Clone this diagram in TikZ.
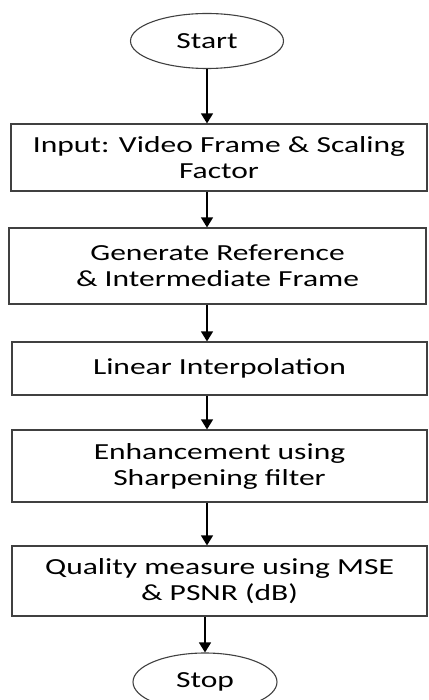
\documentclass[tikz,border=0pt]{standalone}
\usepackage{fontspec}
\setmainfont[FakeStretch=1.37]{Carlito}
\usetikzlibrary{arrows.meta,shapes.geometric}
\tikzset{
  box/.style={draw=black!75, line width=1.2pt, rectangle, minimum width=416pt, inner sep=0pt, align=center, font=\fontsize{23}{26}\selectfont},
  term/.style={draw=black!75, line width=1.1pt, ellipse, inner sep=0pt, font=\fontsize{23}{26}\selectfont},
  arr/.style={draw=black, line width=1.3pt, -{Triangle[width=12pt,length=10pt]}}
}
\begin{document}
\begin{tikzpicture}[x=1pt,y=1pt]
\useasboundingbox (0,0) rectangle (428,-700);
\node[term, minimum width=153pt, minimum height=55pt] (start) at (207,-41) {Start};
\node[box, minimum height=67pt] (b1) at (219,-157.5) {Input: Video Frame \& Scaling\\Factor};
\node[box, minimum width=417pt, minimum height=76pt] (b2) at (217.5,-266) {Generate Reference\\\& Intermediate Frame};
\node[box, minimum width=415pt, minimum height=53pt] (b3) at (219.5,-368.5) {Linear Interpolation};
\node[box, minimum width=415pt, minimum height=72pt] (b4) at (219.5,-466) {Enhancement using\\Sharpening filter};
\node[box, minimum width=415pt, minimum height=70pt] (b5) at (219.5,-581) {Quality measure using MSE\\\& PSNR (dB)};
\node[term, minimum width=144pt, minimum height=58pt] (stop) at (205,-682) {Stop};
\draw[arr] (start) -- (start |- b1.north);
\draw[arr] (b1.south -| start) -- (b2.north -| start);
\draw[arr] (b2.south -| start) -- (b3.north -| start);
\draw[arr] (b3.south -| start) -- (b4.north -| start);
\draw[arr] (b4.south -| start) -- (b5.north -| start);
\draw[arr] (b5.south -| stop) -- (stop);
\end{tikzpicture}
\end{document}
